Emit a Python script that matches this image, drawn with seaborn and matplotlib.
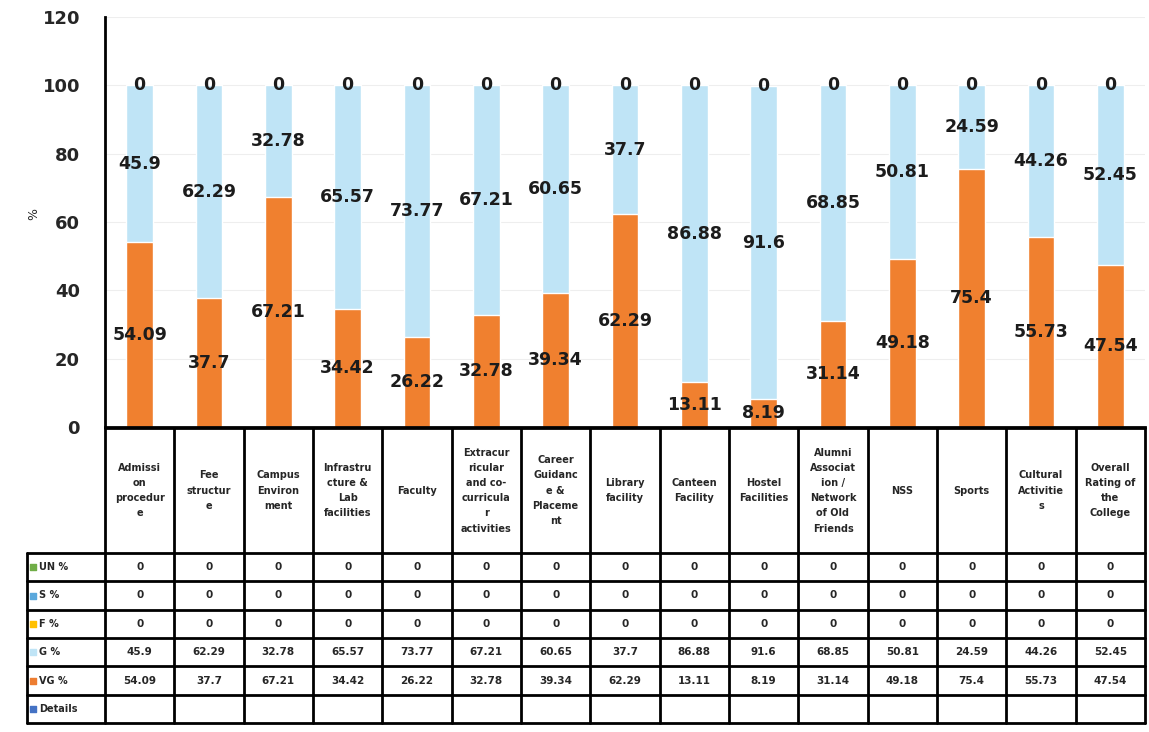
import numpy as np
import pandas as pd
import matplotlib
matplotlib.use("Agg")
import matplotlib.pyplot as plt
import seaborn as sns

# categories as shown in the data table (wrapped like the original)
categories = ["Admissi\non\nprocedur\ne", "Fee\nstructur\ne", "Campus\nEnviron\nment",
              "Infrastru\ncture &\nLab\nfacilities", "Faculty",
              "Extracur\nricular\nand co-\ncurricula\nr\nactivities",
              "Career\nGuidanc\ne &\nPlaceme\nnt", "Library\nfacility", "Canteen\nFacility",
              "Hostel\nFacilities", "Alumni\nAssociat\nion /\nNetwork\nof Old\nFriends",
              "NSS", "Sports", "Cultural\nActivitie\ns", "Overall\nRating of\nthe\nCollege"]

vg = [54.09, 37.7, 67.21, 34.42, 26.22, 32.78, 39.34, 62.29, 13.11, 8.19, 31.14, 49.18, 75.4, 55.73, 47.54]
g = [45.9, 62.29, 32.78, 65.57, 73.77, 67.21, 60.65, 37.7, 86.88, 91.6, 68.85, 50.81, 24.59, 44.26, 52.45]
f = [0, 0, 0, 0, 0, 0, 0, 0, 0, 0, 0, 0, 0, 0, 0]
s = [0, 0, 0, 0, 0, 0, 0, 0, 0, 0, 0, 0, 0, 0, 0]
un = [0, 0, 0, 0, 0, 0, 0, 0, 0, 0, 0, 0, 0, 0, 0]

row_names = ["UN %", "S %", "F %", "G %", "VG %", "Details"]
row_colors = ["#70AD47", "#5BA8DC", "#FFC000", "#BFE4F6", "#ED7D31", "#4472C4"]

ORANGE = "#F0802F"
LIGHTBLUE = "#BFE4F6"

df = pd.DataFrame({"cat": categories, "VG": vg, "G": g, "F": f, "S": s, "UN": un})
df["total"] = df[["VG", "G", "F", "S", "UN"]].sum(axis=1)

sns.set_style("white")
plt.rcParams["font.family"] = ["DejaVu Sans"]

W, H = 1149, 732
fig = plt.figure(figsize=(W / 100, H / 100), dpi=100)

# main chart area (pixel positions from the reference)
ax = fig.add_axes([105 / W, (H - 427) / H, (1145 - 105) / W, (427 - 17) / H])
sns.barplot(data=df, x="cat", y="total", color=LIGHTBLUE, saturation=1, width=0.38, ax=ax)
sns.barplot(data=df, x="cat", y="VG", color=ORANGE, saturation=1, width=0.38, ax=ax)

ax.set_xlim(-0.5, len(categories) - 0.5)
ax.set_ylim(0, 120)
ax.set_yticks(range(0, 121, 20))
ax.set_xticks([])
ax.set_xlabel("")
ax.set_ylabel("%", fontsize=9)
ax.yaxis.set_label_coords(-0.062, 0.52)
ax.yaxis.grid(True, color="#eeeeee", linewidth=0.8)
ax.set_axisbelow(True)
for side in ["top", "right"]:
    ax.spines[side].set_visible(False)
for side in ["left", "bottom"]:
    ax.spines[side].set_linewidth(2)
    ax.spines[side].set_color("black")
ax.tick_params(axis="y", direction="out", length=7, width=1.8, pad=11, labelsize=13)
for lab in ax.get_yticklabels():
    lab.set_fontweight("bold")

lab_kw = dict(ha="center", va="center", fontsize=12.5, fontweight="bold", color="#1c1c1c")
for i, row in df.iterrows():
    ax.text(i, row["VG"] / 2, f"{row['VG']:g}", **lab_kw)
    ax.text(i, row["VG"] + row["G"] / 2, f"{row['G']:g}", **lab_kw)
    ax.text(i, row["total"], f"{row['F']:g}", **lab_kw)

# data table under the chart
tax = fig.add_axes([27 / W, (H - 723) / H, (1145 - 27) / W, (723 - 428) / H])
n = len(categories)
x_left = -0.5 - 78 / ((1145 - 105) / n)
tax.set_xlim(x_left, n - 0.5)
tax.set_ylim(0, 295)
tax.axis("off")

header_h = 125
row_h = (295 - header_h) / len(row_names)
lw = 2
for k in range(n + 1):
    tax.plot([k - 0.5, k - 0.5], [0, 295], color="black", lw=lw, clip_on=False)
tax.plot([x_left, x_left], [0, 295 - header_h], color="black", lw=lw, clip_on=False)
tax.plot([-0.5, n - 0.5], [295, 295], color="black", lw=lw, clip_on=False)
for r in range(len(row_names) + 1):
    y = r * row_h
    tax.plot([x_left, n - 0.5], [y, y], color="black", lw=lw, clip_on=False)

for i, name in enumerate(categories):
    tax.text(i, 295 - header_h / 2, name, ha="center", va="center", fontsize=7,
             fontweight="bold", linespacing=1.65)

table_rows = [un, s, f, g, vg, None]
for r, (name, col, vals) in enumerate(zip(row_names, row_colors, table_rows)):
    yc = 295 - header_h - (r + 0.5) * row_h
    tax.scatter([x_left + 0.08], [yc], marker="s", s=14, color=col, clip_on=False)
    tax.text(x_left + 0.17, yc, name, ha="left", va="center", fontsize=7, fontweight="bold")
    if vals is None:
        continue
    for i, v in enumerate(vals):
        tax.text(i, yc, f"{v:g}", ha="center", va="center", fontsize=7.5, fontweight="bold")

fig.savefig("out.png", dpi=100)
